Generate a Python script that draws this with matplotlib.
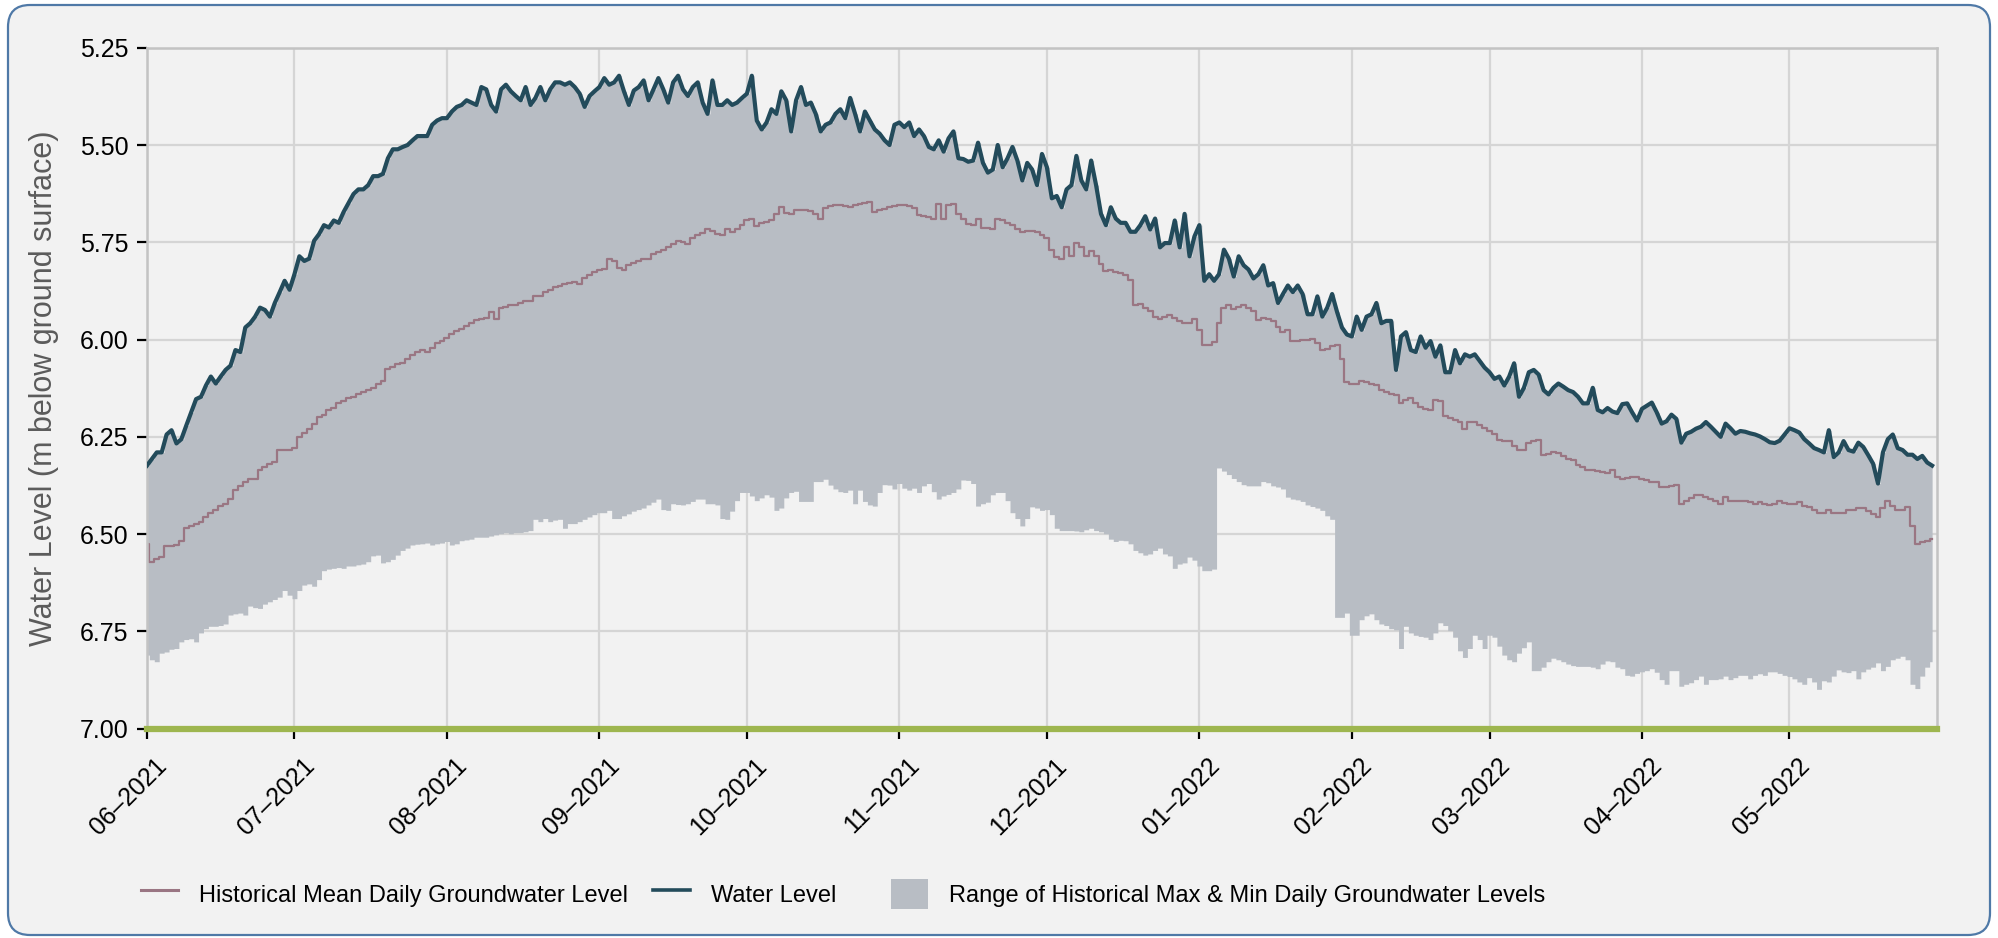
import numpy as np
import pandas as pd
import matplotlib
matplotlib.use("Agg")
import matplotlib.pyplot as plt
import matplotlib.dates as mdates
import matplotlib.transforms as mtransforms
from matplotlib.patches import FancyBboxPatch, Patch
from matplotlib.lines import Line2D

plt.rcParams['font.family'] = ['Liberation Sans', 'DejaVu Sans']

# daily series starting 1 June 2021 (m below ground surface)
start_date = "2021-06-01"

water_level = [
    6.324, 6.307, 6.290, 6.290, 6.244, 6.233, 6.267, 6.256, 6.221, 6.187,
    6.153, 6.147, 6.118, 6.095, 6.113, 6.095, 6.078, 6.067, 6.027, 6.032,
    5.969, 5.958, 5.941, 5.918, 5.924, 5.941, 5.906, 5.878, 5.849, 5.872,
    5.832, 5.786, 5.798, 5.792, 5.746, 5.729, 5.706, 5.712, 5.694, 5.700,
    5.672, 5.649, 5.626, 5.614, 5.614, 5.603, 5.580, 5.580, 5.574, 5.534,
    5.511, 5.511, 5.505, 5.500, 5.488, 5.477, 5.477, 5.477, 5.448, 5.437,
    5.431, 5.431, 5.414, 5.402, 5.397, 5.385, 5.391, 5.397, 5.351, 5.357,
    5.397, 5.414, 5.357, 5.345, 5.362, 5.374, 5.385, 5.351, 5.397, 5.379,
    5.351, 5.385, 5.357, 5.339, 5.339, 5.345, 5.339, 5.351, 5.368, 5.402,
    5.374, 5.362, 5.351, 5.328, 5.345, 5.339, 5.322, 5.362, 5.397, 5.360,
    5.351, 5.334, 5.385, 5.357, 5.328, 5.357, 5.391, 5.339, 5.322, 5.357,
    5.374, 5.351, 5.339, 5.391, 5.420, 5.334, 5.397, 5.397, 5.385, 5.397,
    5.391, 5.379, 5.368, 5.322, 5.437, 5.460, 5.442, 5.408, 5.420, 5.362,
    5.385, 5.465, 5.385, 5.351, 5.397, 5.391, 5.420, 5.465, 5.448, 5.442,
    5.420, 5.408, 5.431, 5.379, 5.420, 5.465, 5.414, 5.437, 5.460, 5.471,
    5.488, 5.500, 5.448, 5.442, 5.454, 5.442, 5.477, 5.460, 5.477, 5.505,
    5.511, 5.488, 5.517, 5.483, 5.465, 5.534, 5.536, 5.543, 5.540, 5.494,
    5.546, 5.571, 5.563, 5.500, 5.557, 5.534, 5.505, 5.540, 5.591, 5.546,
    5.563, 5.603, 5.523, 5.557, 5.637, 5.631, 5.660, 5.614, 5.603, 5.528,
    5.591, 5.614, 5.540, 5.603, 5.677, 5.706, 5.660, 5.689, 5.700, 5.700,
    5.723, 5.723, 5.706, 5.683, 5.717, 5.689, 5.763, 5.752, 5.752, 5.694,
    5.763, 5.677, 5.786, 5.735, 5.706, 5.849, 5.832, 5.849, 5.832, 5.769,
    5.792, 5.838, 5.786, 5.809, 5.820, 5.843, 5.832, 5.809, 5.861, 5.855,
    5.906, 5.883, 5.861, 5.878, 5.861, 5.883, 5.935, 5.935, 5.889, 5.941,
    5.918, 5.883, 5.929, 5.969, 5.987, 5.992, 5.941, 5.975, 5.941, 5.935,
    5.906, 5.958, 5.952, 5.952, 6.078, 5.992, 5.981, 6.027, 6.032, 5.992,
    6.021, 6.004, 6.044, 6.015, 6.084, 6.084, 6.027, 6.061, 6.038, 6.044,
    6.038, 6.055, 6.072, 6.084, 6.101, 6.095, 6.118, 6.095, 6.061, 6.147,
    6.124, 6.084, 6.078, 6.090, 6.130, 6.141, 6.124, 6.113, 6.121, 6.130,
    6.135, 6.147, 6.164, 6.164, 6.124, 6.181, 6.187, 6.176, 6.185, 6.189,
    6.166, 6.164, 6.187, 6.208, 6.178, 6.170, 6.162, 6.187, 6.216, 6.210,
    6.193, 6.204, 6.265, 6.242, 6.237, 6.229, 6.224, 6.212, 6.224, 6.237,
    6.250, 6.216, 6.228, 6.242, 6.235, 6.237, 6.241, 6.244, 6.249, 6.256,
    6.264, 6.266, 6.260, 6.244, 6.228, 6.233, 6.239, 6.256, 6.267, 6.279,
    6.284, 6.290, 6.233, 6.302, 6.290, 6.261, 6.284, 6.288, 6.265, 6.276,
    6.297, 6.319, 6.370, 6.290, 6.256, 6.244, 6.279, 6.284, 6.296, 6.296,
    6.307, 6.299, 6.316, 6.324,
]

hist_mean = [
    6.525, 6.571, 6.565, 6.559, 6.531, 6.531, 6.528, 6.519, 6.485, 6.479,
    6.473, 6.468, 6.456, 6.445, 6.439, 6.428, 6.422, 6.410, 6.387, 6.376,
    6.365, 6.359, 6.359, 6.336, 6.327, 6.319, 6.315, 6.284, 6.284, 6.284,
    6.279, 6.250, 6.239, 6.231, 6.216, 6.198, 6.193, 6.181, 6.176, 6.164,
    6.158, 6.150, 6.147, 6.141, 6.135, 6.130, 6.124, 6.113, 6.107, 6.075,
    6.070, 6.063, 6.061, 6.050, 6.040, 6.032, 6.027, 6.032, 6.021, 6.009,
    6.004, 5.995, 5.987, 5.979, 5.972, 5.964, 5.958, 5.949, 5.946, 5.944,
    5.929, 5.946, 5.918, 5.916, 5.912, 5.910, 5.906, 5.901, 5.901, 5.889,
    5.889, 5.878, 5.872, 5.866, 5.862, 5.858, 5.855, 5.853, 5.857, 5.843,
    5.834, 5.826, 5.820, 5.818, 5.792, 5.798, 5.815, 5.820, 5.809, 5.803,
    5.798, 5.794, 5.792, 5.780, 5.775, 5.769, 5.761, 5.754, 5.746, 5.749,
    5.754, 5.738, 5.731, 5.727, 5.717, 5.720, 5.729, 5.732, 5.717, 5.724,
    5.715, 5.706, 5.694, 5.689, 5.708, 5.701, 5.698, 5.694, 5.677, 5.660,
    5.674, 5.677, 5.667, 5.666, 5.666, 5.669, 5.677, 5.689, 5.662, 5.658,
    5.655, 5.654, 5.658, 5.660, 5.653, 5.651, 5.649, 5.646, 5.672, 5.667,
    5.665, 5.660, 5.658, 5.655, 5.654, 5.658, 5.662, 5.681, 5.683, 5.685,
    5.689, 5.651, 5.689, 5.654, 5.651, 5.677, 5.689, 5.704, 5.706, 5.689,
    5.712, 5.713, 5.715, 5.689, 5.694, 5.700, 5.706, 5.715, 5.723, 5.721,
    5.720, 5.724, 5.731, 5.740, 5.769, 5.788, 5.792, 5.763, 5.786, 5.752,
    5.763, 5.784, 5.772, 5.786, 5.807, 5.823, 5.820, 5.826, 5.830, 5.834,
    5.846, 5.910, 5.909, 5.918, 5.926, 5.941, 5.946, 5.941, 5.937, 5.944,
    5.952, 5.958, 5.958, 5.946, 5.975, 6.013, 6.013, 6.006, 5.958, 5.918,
    5.912, 5.921, 5.916, 5.912, 5.918, 5.926, 5.949, 5.944, 5.946, 5.952,
    5.969, 5.981, 5.975, 6.004, 6.004, 6.001, 6.000, 5.998, 6.009, 6.027,
    6.024, 6.017, 6.015, 6.050, 6.109, 6.113, 6.114, 6.107, 6.109, 6.113,
    6.116, 6.130, 6.135, 6.139, 6.143, 6.162, 6.155, 6.150, 6.164, 6.173,
    6.178, 6.181, 6.155, 6.158, 6.196, 6.202, 6.206, 6.212, 6.231, 6.212,
    6.212, 6.219, 6.228, 6.235, 6.242, 6.259, 6.261, 6.261, 6.273, 6.284,
    6.284, 6.267, 6.261, 6.258, 6.296, 6.294, 6.290, 6.292, 6.298, 6.307,
    6.310, 6.322, 6.327, 6.334, 6.336, 6.338, 6.341, 6.342, 6.336, 6.352,
    6.359, 6.355, 6.353, 6.353, 6.359, 6.361, 6.365, 6.367, 6.379, 6.378,
    6.376, 6.373, 6.422, 6.416, 6.408, 6.399, 6.399, 6.405, 6.410, 6.416,
    6.422, 6.405, 6.414, 6.416, 6.416, 6.416, 6.418, 6.422, 6.418, 6.422,
    6.425, 6.422, 6.416, 6.420, 6.422, 6.422, 6.418, 6.428, 6.430, 6.437,
    6.445, 6.445, 6.439, 6.445, 6.445, 6.445, 6.439, 6.437, 6.433, 6.433,
    6.441, 6.448, 6.456, 6.433, 6.416, 6.428, 6.437, 6.439, 6.430, 6.479,
    6.525, 6.521, 6.519, 6.513,
]

hist_min = [
    6.811, 6.823, 6.828, 6.806, 6.803, 6.796, 6.794, 6.777, 6.771, 6.769,
    6.777, 6.754, 6.743, 6.737, 6.737, 6.735, 6.731, 6.708, 6.705, 6.703,
    6.708, 6.685, 6.689, 6.691, 6.680, 6.674, 6.668, 6.662, 6.645, 6.657,
    6.666, 6.645, 6.631, 6.628, 6.634, 6.617, 6.594, 6.590, 6.588, 6.586,
    6.588, 6.582, 6.582, 6.579, 6.577, 6.571, 6.556, 6.554, 6.574, 6.571,
    6.565, 6.554, 6.542, 6.536, 6.528, 6.526, 6.525, 6.523, 6.528, 6.525,
    6.523, 6.519, 6.528, 6.525, 6.517, 6.515, 6.513, 6.508, 6.508, 6.508,
    6.505, 6.502, 6.499, 6.496, 6.499, 6.496, 6.496, 6.494, 6.491, 6.462,
    6.468, 6.460, 6.468, 6.464, 6.462, 6.485, 6.473, 6.473, 6.468, 6.462,
    6.456, 6.450, 6.445, 6.445, 6.439, 6.460, 6.460, 6.453, 6.448, 6.441,
    6.437, 6.433, 6.425, 6.418, 6.410, 6.437, 6.439, 6.422, 6.424, 6.425,
    6.422, 6.416, 6.410, 6.410, 6.422, 6.422, 6.425, 6.460, 6.462, 6.441,
    6.414, 6.393, 6.393, 6.402, 6.414, 6.407, 6.399, 6.405, 6.439, 6.433,
    6.407, 6.393, 6.390, 6.416, 6.416, 6.416, 6.365, 6.365, 6.359, 6.374,
    6.384, 6.391, 6.393, 6.387, 6.422, 6.387, 6.416, 6.425, 6.428, 6.393,
    6.373, 6.374, 6.384, 6.370, 6.382, 6.387, 6.382, 6.393, 6.376, 6.370,
    6.391, 6.410, 6.402, 6.398, 6.393, 6.384, 6.361, 6.362, 6.370, 6.428,
    6.422, 6.418, 6.399, 6.393, 6.393, 6.414, 6.445, 6.460, 6.479, 6.460,
    6.430, 6.433, 6.439, 6.437, 6.450, 6.485, 6.491, 6.491, 6.491, 6.492,
    6.494, 6.489, 6.485, 6.491, 6.494, 6.499, 6.513, 6.519, 6.516, 6.517,
    6.525, 6.542, 6.548, 6.554, 6.551, 6.542, 6.536, 6.551, 6.556, 6.588,
    6.577, 6.574, 6.559, 6.567, 6.582, 6.594, 6.594, 6.590, 6.330, 6.338,
    6.347, 6.357, 6.365, 6.373, 6.376, 6.376, 6.376, 6.365, 6.368, 6.376,
    6.379, 6.384, 6.405, 6.410, 6.412, 6.416, 6.425, 6.429, 6.433, 6.439,
    6.453, 6.462, 6.714, 6.714, 6.703, 6.760, 6.760, 6.720, 6.710, 6.705,
    6.720, 6.731, 6.735, 6.743, 6.746, 6.794, 6.737, 6.754, 6.760, 6.763,
    6.765, 6.771, 6.754, 6.728, 6.735, 6.748, 6.765, 6.800, 6.817, 6.794,
    6.760, 6.771, 6.794, 6.760, 6.765, 6.788, 6.811, 6.823, 6.828, 6.806,
    6.792, 6.777, 6.851, 6.851, 6.842, 6.828, 6.819, 6.823, 6.828, 6.834,
    6.838, 6.840, 6.840, 6.840, 6.842, 6.846, 6.834, 6.826, 6.828, 6.842,
    6.846, 6.863, 6.865, 6.858, 6.854, 6.851, 6.846, 6.855, 6.874, 6.886,
    6.851, 6.851, 6.891, 6.886, 6.882, 6.874, 6.865, 6.886, 6.874, 6.874,
    6.872, 6.865, 6.874, 6.869, 6.863, 6.863, 6.872, 6.863, 6.859, 6.863,
    6.854, 6.854, 6.858, 6.863, 6.866, 6.872, 6.880, 6.886, 6.869, 6.880,
    6.899, 6.877, 6.880, 6.865, 6.849, 6.854, 6.856, 6.851, 6.872, 6.854,
    6.847, 6.842, 6.831, 6.851, 6.840, 6.823, 6.819, 6.814, 6.823, 6.886,
    6.897, 6.865, 6.842, 6.828,
]

# this year's level sits on the historical maximum
hist_max = water_level
threshold = 7.00

n = min(len(water_level), len(hist_mean), len(hist_min))
days = pd.date_range(start_date, periods=n, freq="D")

fig = plt.figure(figsize=(19.99, 9.38), dpi=100, facecolor="white")

# rounded panel behind everything
panel = FancyBboxPatch((8, 3), 1982, 930, boxstyle="round,pad=0,rounding_size=22",
                       transform=None, facecolor="#f2f2f2", edgecolor="#4f79a7",
                       linewidth=1.6, zorder=-10)
fig.add_artist(panel)

ax = fig.add_axes([0.0735, 0.2232, 0.8955, 0.7259])
ax.set_facecolor("#f2f2f2")

ax.fill_between(days, hist_min[:n], hist_max[:n], step="mid", color="#b8bdc4", lw=0, zorder=1)
ax.plot(days, hist_mean[:n], drawstyle="steps-mid", color="#9a7683", lw=1.6, zorder=2)
ax.plot(days, water_level[:n], color="#234b5b", lw=3.0, zorder=3)
ax.axhline(threshold, color="#9eb64f", lw=4.5, zorder=4, clip_on=False)

ax.set_ylim(7.0, 5.25)
ax.set_yticks(np.arange(5.25, 7.01, 0.25))
ax.yaxis.set_major_formatter(matplotlib.ticker.FormatStrFormatter("%.2f"))
ax.set_xlim(pd.Timestamp("2021-06-01"), pd.Timestamp("2022-05-31"))
ax.xaxis.set_major_locator(mdates.MonthLocator())
ax.xaxis.set_major_formatter(mdates.DateFormatter("%m\u2013%Y"))

ax.grid(True, color="#d5d5d5", lw=1.6)
ax.set_axisbelow(True)
for sp in ax.spines.values():
    sp.set_color("#c3c3c3")
    sp.set_linewidth(1.8)

ax.tick_params(axis="both", length=7.5, width=1.6, color="black", labelsize=18, labelcolor="black")
ax.tick_params(axis="y", pad=6)
ax.tick_params(axis="x", pad=6)
shift = mtransforms.ScaledTranslation(0.08, -0.06, fig.dpi_scale_trans)
for lab in ax.get_xticklabels():
    lab.set_rotation(45)
    lab.set_ha("right")
    lab.set_rotation_mode("anchor")
    lab.set_transform(lab.get_transform() + shift)

ax.set_ylabel("Water Level (m below ground surface)", fontsize=22, color="#5b5b5b")
ax.yaxis.set_label_coords(-0.049, 0.5)

# legend entries laid out along the bottom
leg_y = 1 - 894 / 938
entries = [
    (141, Line2D([], [], color="#9a7683", lw=2.2), "Historical Mean Daily Groundwater Level"),
    (653, Line2D([], [], color="#234b5b", lw=2.6), "Water Level"),
    (891, Patch(facecolor="#b8bdc4", edgecolor="none"), "Range of Historical Max & Min Daily Groundwater Levels"),
]
for x_px, handle, label in entries:
    fig.legend([handle], [label], loc="center left", bbox_to_anchor=(x_px / 1999, leg_y),
               frameon=False, fontsize=17, borderpad=0, borderaxespad=0,
               handlelength=1.55, handleheight=1.6, handletextpad=0.9)

fig.savefig("out.png", dpi=100, facecolor="white")
